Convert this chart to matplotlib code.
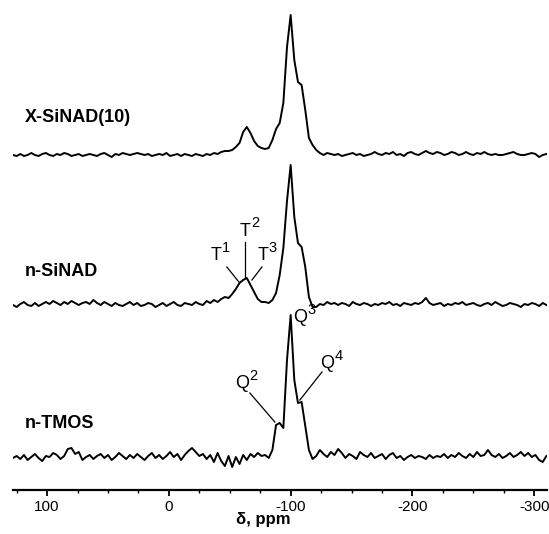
import numpy as np
import matplotlib
matplotlib.use("Agg")
import matplotlib.pyplot as plt
from matplotlib.ticker import MultipleLocator
from matplotlib.transforms import offset_copy

# chemical shift grid, ppm (128 down to -310 in 3 ppm steps)
ppm = np.arange(128, -311, -3)

# intensities, each trace above its own baseline
x_sinad = [
    0, -1, 1, -1, 0, 2, 0, -1, 1, 2,
    0, -1, 1, 0, 2, 1, -1, 0, 1, -1,
    0, 1, 0, -1, 1, 2, 0, -2, 1, 0,
    2, 1, 0, 1, 2, 1, 0, 1, -1, 0,
    1, 0, 2, -1, 0, 1, -1, 1, 0, -1,
    1, 0, -1, 1, 0, 2, 1, 3, 4, 4,
    5, 8, 12, 23, 28, 22, 14, 9, 7, 6,
    7, 15, 26, 32, 52, 108, 140, 95, 73, 70,
    45, 17, 10, 5, 2, 0, 2, 1, 0, 1,
    -1, 0, 1, 2, 0, 1, -1, 0, 1, 3,
    1, 0, 2, 1, 3, 0, 1, -1, 2, 3,
    1, 0, 2, 4, 2, 1, 3, 2, 0, 1,
    3, 2, 0, 1, 3, 1, 0, 2, 1, 3,
    1, 0, 1, 0, 0, 1, 2, 3, 1, 0,
    0, 1, 2, 1, -2, 0, 1,
]
n_sinad = [
    0, -2, 1, 3, 0, -1, 2, -1, 1, 3,
    1, 4, 2, 0, 3, 1, 4, 2, 0, 2,
    3, 1, 5, 2, 0, 3, 1, -1, 2, 0,
    -1, 1, 3, 0, 2, -1, 0, 2, 1, -2,
    0, 2, -1, 1, 3, 0, -1, 2, 1, 0,
    3, 1, 0, 4, 2, 5, 3, 6, 8, 7,
    11, 16, 22, 25, 27, 20, 13, 6, 3, 3,
    2, 5, 12, 30, 57, 104, 140, 88, 62, 58,
    38, 8, -2, -2, 1, 0, 3, 1, 2, 0,
    2, 1, -1, 3, 1, 0, 2, 1, -1, 1,
    0, 2, 1, 3, 0, 1, -1, 2, 1, 0,
    2, 1, 3, 7, 2, 0, 1, 2, -1, 1,
    0, 2, 1, 3, 0, 1, 2, 0, -1, 1,
    2, 0, 3, 1, -1, 0, 2, 1, 0, -2,
    1, 0, 2, 1, -1, 2, 0,
]
n_tmos = [
    0, 2, -1, 3, -2, 1, 4, 0, -3, 2,
    1, 5, 3, -1, 2, 9, 10, 4, 6, -2,
    1, 3, -1, 2, 4, 0, 3, -2, 1, 5,
    2, -1, 3, 0, 4, 1, -2, 2, 5, 0,
    3, -1, 2, 6, 1, 4, -2, 3, 7, 10,
    6, 2, 4, -1, 3, -4, 5, -3, -8, 2,
    -9, 1, -6, 3, -2, 4, 1, 5, 2, 3,
    0, 8, 33, 35, 30, 98, 143, 78, 55, 56,
    32, 8, -1, 2, 8, 4, 1, 6, 3, 9,
    5, 0, 4, 2, -1, 6, 3, 1, 5, 0,
    2, 4, -1, 3, 5, 0, 2, -2, 1, 3,
    0, 2, 1, -1, 3, 0, 2, 1, 4, 0,
    3, 1, 5, 2, 0, 4, 1, 6, 2, 3,
    8, 3, 1, 4, 0, 2, 5, 1, 3, 6,
    2, 5, 1, 3, -2, -4, 2,
]

names = ['X-SiNAD(10)', 'n-SiNAD', 'n-TMOS']
spectra = [x_sinad, n_sinad, n_tmos]

# vertical stacking of the traces and where their names sit
offsets = [335, 185, 32]
name_y = [372, 218, 67]

plt.rcParams['font.family'] = ['Liberation Sans', 'DejaVu Sans']
plt.rcParams['axes.unicode_minus'] = False

fig = plt.figure(figsize=(5.49, 5.34), dpi=100)
ax = fig.add_axes([13 / 549, 44 / 534, 534 / 549, 490 / 534])

for name, spec, off, ty in zip(names, spectra, offsets, name_y):
    ax.plot(ppm, np.array(spec) + off, color='black', lw=1.4)
    ax.text(118, ty, name, fontsize=13, fontweight='bold', ha='left', va='center')

# peak assignments: (letter, index, text x, text y, line start, line end)
marks = [
    ('T', '1', -43.5, 234, (-47.6, 223), (-57.5, 208)),
    ('T', '2', -67.4, 259, (-62.4, 248), (-62.4, 213)),
    ('T', '3', -82.0, 234, (-76.4, 223), (-68.2, 210)),
    ('Q', '2', -65.7, 106, (-66.5, 97), (-87.0, 68)),
    ('Q', '4', -136.0, 126, (-125.7, 118), (-107.6, 90)),
    ('Q', '3', -113.5, 172, None, None),
]
sup = offset_copy(ax.transData, fig=fig, x=0, y=5.5, units='points')
for letter, idx, tx, ty, p0, p1 in marks:
    ax.text(tx, ty, letter, fontsize=13, ha='right', va='center')
    ax.text(tx, ty, idx, fontsize=10.5, ha='left', va='center', transform=sup)
    if p0 is not None:
        ax.plot([p0[0], p1[0]], [p0[1], p1[1]], color='black', lw=0.9)

ax.set_xlim(128, -310.5)
ax.set_ylim(0, 490)

# only the bottom axis is shown
for side in ['left', 'right', 'top']:
    ax.spines[side].set_visible(False)
ax.spines['bottom'].set_linewidth(1.6)
ax.set_yticks([])
ax.xaxis.set_major_locator(MultipleLocator(100))
ax.xaxis.set_minor_locator(MultipleLocator(25))
ax.tick_params(axis='x', which='major', direction='out', length=4.5, width=1.3,
               labelsize=11, pad=3)
ax.tick_params(axis='x', which='minor', direction='out', length=2.5, width=1.0)

ax.set_xlabel('δ, ppm', fontsize=12, fontweight='bold')
ax.xaxis.set_label_coords(0.468, -0.045)

fig.savefig('out.png', dpi=100)
